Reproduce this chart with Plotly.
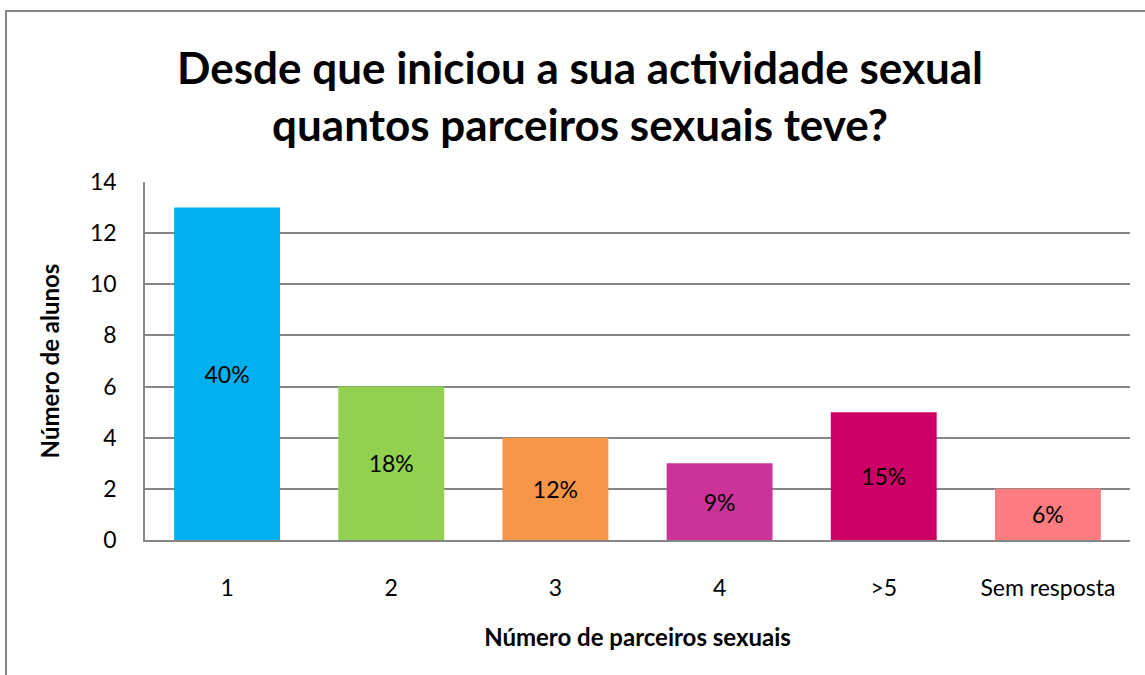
import plotly.graph_objects as go

categories = ["1", "2", "3", "4", ">5", "Sem resposta"]
alunos = [13, 6, 4, 3, 5, 2]
percent_labels = ["40%", "18%", "12%", "9%", "15%", "6%"]
colors = ["#00B0F0", "#92D050", "#F79646", "#CC3399", "#CC0066", "#FF7C80"]

FONT = "Lato, 'Open Sans', sans-serif"
W, H = 1145, 675
L, R, T, B = 145, 15, 182, 135
pw = W - L - R
ph = H - T - B

fig = go.Figure(go.Bar(
    x=categories, y=alunos, marker=dict(color=colors, line=dict(width=0)),
    text=percent_labels, textposition="inside", insidetextanchor="middle",
    textfont=dict(family=FONT, size=23, color="black"),
    constraintext="none", width=0.645,
))

fig.update_layout(
    width=W, height=H,
    margin=dict(l=L, r=R, t=T, b=B),
    paper_bgcolor="white", plot_bgcolor="white",
    showlegend=False,
    title=dict(text="Desde que iniciou a sua actividade sexual<br>quantos parceiros sexuais teve?",
               x=580 / W, xanchor="center", y=1 - 84 / H, yanchor="middle",
               font=dict(family=FONT, size=44, color="black", weight="bold")),
    font=dict(family=FONT, color="black"),
    xaxis=dict(
        tickfont=dict(size=23), ticks="", showgrid=False,
        showline=True, linecolor="#868686", linewidth=2,
        title=dict(text="Número de parceiros sexuais", font=dict(size=24, weight="bold"), standoff=30),
        ticklabelstandoff=26,
    ),
    yaxis=dict(
        range=[0, 14], dtick=2, tickfont=dict(size=23),
        showgrid=True, gridcolor="#868686", gridwidth=1.5,
        showline=True, linecolor="#868686", linewidth=1.5,
        ticks="", ticklabelstandoff=22,
        zeroline=False,
        title=dict(text="Número de alunos", font=dict(size=24, weight="bold"), standoff=24),
    ),
    shapes=[dict(type="rect", xref="paper", yref="paper",
                 x0=(6 - L) / pw, x1=(1160 - L) / pw,
                 y0=(H - B - 690) / ph, y1=(H - B - 11) / ph,
                 line=dict(color="#868686", width=2), layer="below")],
)

fig.write_html("out.html", config={"displayModeBar": False},
               post_script="document.body.style.margin='0';")
